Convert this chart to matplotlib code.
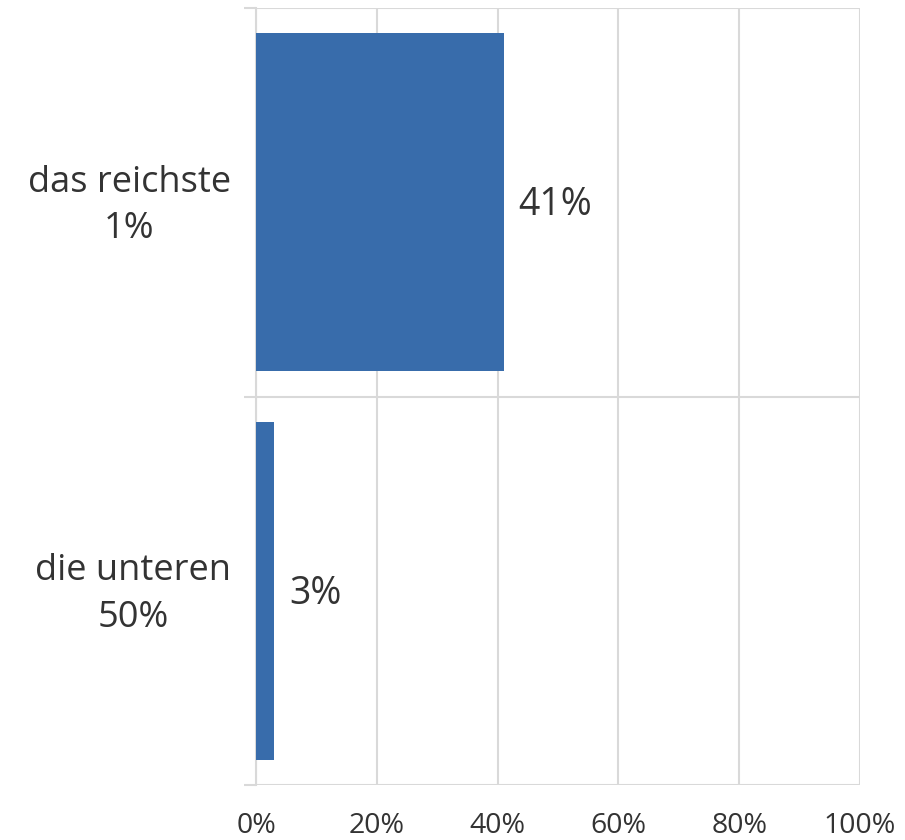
import matplotlib
matplotlib.use('Agg')
import matplotlib.pyplot as plt
import matplotlib.transforms as mtransforms
from matplotlib.ticker import FixedLocator

plt.rcParams['font.family'] = ['Open Sans', 'DejaVu Sans']

# Share of wealth held by each group
categories = ['das reichste\n1%', 'die unteren\n50%']
shares = [41, 3]
x_ticks = [0, 20, 40, 60, 80, 100]
x_labels = ['0%', '20%', '40%', '60%', '80%', '100%']

bar_color = '#386CAB'
grid_color = '#D9D9D9'
text_color = '#333333'

fig = plt.figure(figsize=(9.05, 8.4), dpi=100)
ax = fig.add_axes([256 / 905, 1 - 785 / 840, 604 / 905, 777 / 840])

ypos = list(range(len(categories)))[::-1]
ax.barh(ypos, shares, height=0.87, color=bar_color, zorder=3)

for y, v in zip(ypos, shares):
    ax.text(v + 2.5, y, f'{v}%', va='center', ha='left', fontsize=27,
            color=text_color,
            transform=ax.transData + mtransforms.ScaledTranslation(0, -3 / 100, fig.dpi_scale_trans))

ax.set_xlim(0, 100)
ax.set_ylim(-0.5, len(categories) - 0.5)

ax.set_xticks(x_ticks)
ax.set_xticklabels(x_labels, fontsize=20.5, color=text_color)
ax.tick_params(axis='x', length=0, pad=19.5)

# category boundaries carry the major ticks, labels sit on minor ticks
ax.yaxis.set_major_locator(FixedLocator([-0.5, 0.5, 1.5]))
ax.yaxis.set_major_formatter(plt.NullFormatter())
ax.yaxis.set_minor_locator(FixedLocator(ypos))
ax.set_yticklabels(categories, minor=True, fontsize=26, color=text_color,
                   multialignment='center', linespacing=1.38)
ax.tick_params(axis='y', which='major', length=9, width=1.5, color=grid_color)
ax.tick_params(axis='y', which='minor', length=0, pad=18)

# nudge the category labels up a little
lift = mtransforms.ScaledTranslation(0, 6 / 100, fig.dpi_scale_trans)
for lbl in ax.get_yticklabels(minor=True):
    lbl.set_transform(lbl.get_transform() + lift)

ax.grid(True, which='major', color=grid_color, linewidth=1.5, zorder=0)
ax.set_axisbelow(True)
for s in ['top', 'right', 'bottom']:
    ax.spines[s].set_visible(False)
ax.spines['left'].set_color(grid_color)
ax.spines['left'].set_linewidth(1.5)

fig.savefig('out.png', dpi=100)
